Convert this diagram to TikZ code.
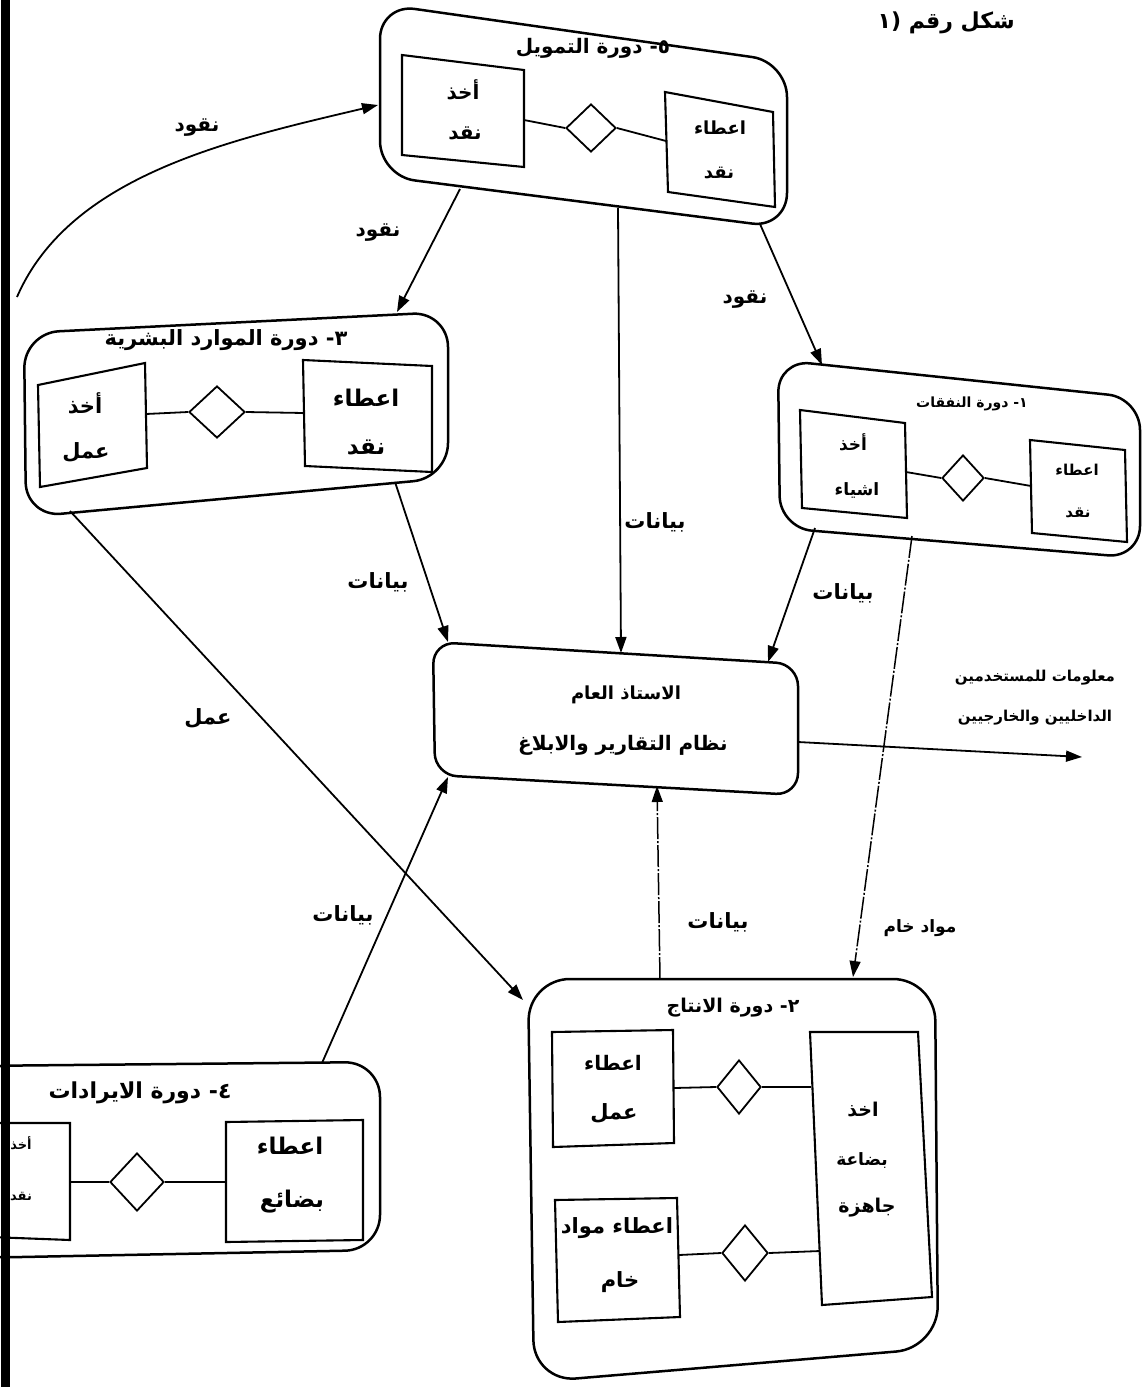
\documentclass[tikz,border=0pt]{standalone}
\usepackage{fontspec}
\newfontfamily\arfont[Script=Arabic]{DejaVu Sans}
\TeXXeTstate=1
\usetikzlibrary{arrows.meta,shapes.geometric}
\newcommand\myRL[1]{\beginR #1\endR}
\begin{document}
\begin{tikzpicture}[x=1pt,y=-1pt,
  outer/.style={draw, line width=2.5pt, rounded corners=#1},
  inner/.style={draw, line width=2.1pt},
  dia/.style={draw, line width=1.8pt, shape=diamond, inner sep=0pt},
  link/.style={line width=1.8pt},
  conn/.style={line width=1.8pt, -{Triangle[length=16pt,width=11pt]}},
  dconn/.style={line width=1.5pt, dash pattern=on 22pt off 2pt on 2pt off 2pt, -{Triangle[length=16pt,width=11pt]}},
  ar/.style={font=\arfont\bfseries\fontsize{#1}{#1}\selectfont, inner sep=0pt}]
\useasboundingbox (0,0) rectangle (1142,1387);
\clip (0,0) rectangle (1142,1387);
\fill[white] (0,0) rectangle (1142,1387);

% caption
\node[ar=22, anchor=base east] (cap) at (1015,28) {\myRL{شكل رقم (١}};

% ---------- Box 5 : financing
\draw[outer=35pt] (380,4) -- (787,62) -- (787,228) -- (380,176) -- cycle;
\node[ar=20] (t5) at (593,48) {\myRL{٥- دورة التمويل}};
\draw[inner] (402,55) -- (524,70) -- (524,167) -- (402,155) -- cycle;
\draw[inner] (665,92) -- (773,112) -- (775,207) -- (668,192) -- cycle;
\node[ar=20] (b5a1) at (463,90) {\myRL{أخذ}};
\node[ar=20] (b5a2) at (465,133) {\myRL{نقد}};
\node[ar=18] (b5b1) at (720,128) {\myRL{اعطاء}};
\node[ar=18] (b5b2) at (719,173) {\myRL{نقد}};
\node[dia, minimum width=50pt, minimum height=48pt] (d5) at (591,128) {};
\coordinate (b5L) at (524,120);
\coordinate (b5R) at (666,141);
\draw[link] (b5L) -- (d5.west);
\draw[link] (d5.east) -- (b5R);

% ---------- Box 3 : human resources
\draw[outer=35pt] (24,333) -- (448,312) -- (448,478) -- (26,517) -- cycle;
\node[ar=21] (t3) at (226,340) {\myRL{٣- دورة الموارد البشرية}};
\draw[inner] (38,385) -- (145,363) -- (147,468) -- (40,487) -- cycle;
\draw[inner] (303,360) -- (432,366) -- (432,472) -- (305,466) -- cycle;
\node[ar=21] (b3a1) at (85,403) {\myRL{أخذ}};
\node[ar=21] (b3a2) at (86,452) {\myRL{عمل}};
\node[ar=23] (b3b1) at (366,398) {\myRL{اعطاء}};
\node[ar=23] (b3b2) at (366,448) {\myRL{نقد}};
\node[dia, minimum width=56pt, minimum height=52pt] (d3) at (217,412) {};
\coordinate (b3L) at (146,414);
\coordinate (b3R) at (304,413);
\draw[link] (b3L) -- (d3.west);
\draw[link] (d3.east) -- (b3R);

% ---------- Box 1 : expenses
\draw[outer=32pt] (778,360) -- (1140,398) -- (1140,558) -- (780,528) -- cycle;
\node[ar=14] (t1) at (972,404) {\myRL{١- دورة النفقات}};
\draw[inner] (800,410) -- (905,423) -- (907,518) -- (802,508) -- cycle;
\draw[inner] (1030,440) -- (1125,450) -- (1127,542) -- (1032,533) -- cycle;
\node[ar=17] (b1a1) at (853,442) {\myRL{أخذ}};
\node[ar=17] (b1a2) at (857,490) {\myRL{اشياء}};
\node[ar=15] (b1b1) at (1077,470) {\myRL{اعطاء}};
\node[ar=15] (b1b2) at (1078,513) {\myRL{نقد}};
\node[dia, minimum width=42pt, minimum height=46pt] (d1) at (963,478) {};
\coordinate (b1L) at (906,472);
\coordinate (b1R) at (1031,486);
\draw[link] (b1L) -- (d1.west);
\draw[link] (d1.east) -- (b1R);

% ---------- Center : general ledger
\draw[outer=22pt] (433,642) -- (798,664) -- (798,795) -- (435,775) -- cycle;
\node[ar=18] (g1) at (626,695) {\myRL{الاستاذ العام}};
\node[ar=20] (g2) at (623,745) {\myRL{نظام التقارير والابلاغ}};

% ---------- Box 4 : revenues
\draw[outer=35pt] (-30,1066) -- (380,1062) -- (380,1250) -- (-30,1258) -- cycle;
\node[ar=22] (t4) at (140,1093) {\myRL{٤- دورة الايرادات}};
\draw[inner] (-10,1123) -- (70,1123) -- (70,1240) -- (-10,1237) -- cycle;
\draw[inner] (226,1122) -- (363,1120) -- (363,1240) -- (226,1242) -- cycle;
\node[ar=13] (b4a1) at (21,1143) {\myRL{أخذ}};
\node[ar=13] (b4a2) at (21,1197) {\myRL{نقد}};
\node[ar=23] (b4b1) at (290,1146) {\myRL{اعطاء}};
\node[ar=23] (b4b2) at (292,1202) {\myRL{بضائع}};
\node[dia, minimum width=54pt, minimum height=58pt] (d4) at (137,1182) {};
\coordinate (b4L) at (70,1182);
\coordinate (b4R) at (227,1182);
\draw[link] (b4L) -- (d4.west);
\draw[link] (d4.east) -- (b4R);

% ---------- Box 2 : production
\draw[outer=42pt] (528,979) -- (935,979) -- (938,1348) -- (534,1382) -- cycle;
\node[ar=19] (t2) at (733,1008) {\myRL{٢- دورة الانتاج}};
\draw[inner] (552,1032) -- (673,1030) -- (674,1143) -- (553,1147) -- cycle;
\draw[inner] (555,1200) -- (677,1198) -- (680,1317) -- (558,1322) -- cycle;
\draw[inner] (810,1032) -- (918,1032) -- (932,1297) -- (822,1305) -- cycle;
\node[ar=20] (b2a1) at (613,1063) {\myRL{اعطاء}};
\node[ar=21] (b2a2) at (614,1113) {\myRL{عمل}};
\node[ar=21] (b2b1) at (617,1228) {\myRL{اعطاء مواد}};
\node[ar=21] (b2b2) at (620,1282) {\myRL{خام}};
\node[ar=19] (b2c1) at (863,1110) {\myRL{اخذ}};
\node[ar=17] (b2c2) at (862,1161) {\myRL{بضاعة}};
\node[ar=19] (b2c3) at (867,1208) {\myRL{جاهزة}};
\node[dia, minimum width=44pt, minimum height=54pt] (d2a) at (739,1087) {};
\node[dia, minimum width=46pt, minimum height=56pt] (d2b) at (745,1253) {};
\coordinate (b2L1) at (674,1088);
\coordinate (b2R1) at (811,1087);
\coordinate (b2L2) at (679,1255);
\coordinate (b2R2) at (820,1251);
\draw[link] (b2L1) -- (d2a.west);
\draw[link] (d2a.east) -- (b2R1);
\draw[link] (b2L2) -- (d2b.west);
\draw[link] (d2b.east) -- (b2R2);

% ---------- connector end points
\coordinate (curveStart) at (17,297);
\coordinate (b5W) at (378,105);
\coordinate (b5S1) at (460,189);
\coordinate (b5S2) at (618,208);
\coordinate (b5S3) at (760,224);
\coordinate (b3N) at (397,312);
\coordinate (b3S1) at (395,482);
\coordinate (b3S2) at (70,511);
\coordinate (b1N) at (822,365);
\coordinate (b1S1) at (815,528);
\coordinate (b1S2) at (912,536);
\coordinate (gN1) at (448,642);
\coordinate (gN2) at (621,653);
\coordinate (gN3) at (768,662);
\coordinate (gS1) at (448,777);
\coordinate (gS2) at (657,786);
\coordinate (gE) at (798,742);
\coordinate (outEnd) at (1082,757);
\coordinate (b4N) at (322,1063);
\coordinate (b2N1) at (660,979);
\coordinate (b2N2) at (853,977);
\coordinate (b2NW) at (523,1000);

% ---------- connectors
\draw[conn] (curveStart) .. controls (70,175) and (230,140) .. (b5W);
\draw[conn] (b5S1) -- (b3N);
\draw[conn] (b5S2) -- (gN2);
\draw[conn] (b5S3) -- (b1N);
\draw[conn] (b3S1) -- (gN1);
\draw[conn] (b1S1) -- (gN3);
\draw[conn] (b3S2) -- (b2NW);
\draw[conn] (b4N) -- (gS1);
\draw[dconn] (b2N1) -- (gS2);
\draw[dconn] (b1S2) -- (b2N2);
\draw[conn] (gE) -- (outEnd);

% ---------- connector labels
\node[ar=20] (lq1) at (197,128) {\myRL{نقود}};
\node[ar=20] (lq2) at (378,233) {\myRL{نقود}};
\node[ar=20] (lq3) at (745,300) {\myRL{نقود}};
\node[ar=21] (lb1) at (655,522) {\myRL{بيانات}};
\node[ar=21] (lb2) at (378,582) {\myRL{بيانات}};
\node[ar=21] (lb3) at (843,593) {\myRL{بيانات}};
\node[ar=21] (lw) at (208,718) {\myRL{عمل}};
\node[ar=21] (lb4) at (343,915) {\myRL{بيانات}};
\node[ar=21] (lb5) at (718,922) {\myRL{بيانات}};
\node[ar=17] (lm) at (920,928) {\myRL{مواد خام}};
\node[ar=15] (o1) at (1035,678) {\myRL{معلومات للمستخدمين}};
\node[ar=15] (o2) at (1035,718) {\myRL{الداخليين والخارجيين}};

% left border
\draw[line width=9pt] (5,0) -- (5,1387);
\end{tikzpicture}
\end{document}
